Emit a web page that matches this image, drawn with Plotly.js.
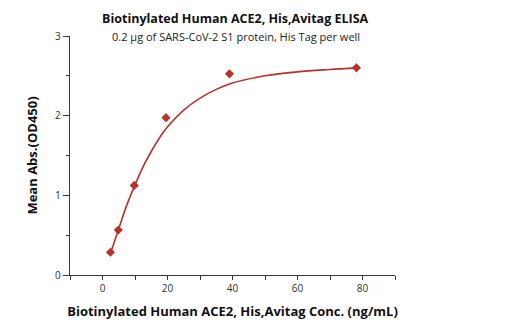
<!DOCTYPE html>
<html>
<head>
<meta charset="utf-8">
<script src="https://cdn.plot.ly/plotly-3.0.1.min.js"></script>
<style>html,body{margin:0;padding:0;background:#fff;}#chart{width:514px;height:331px;}</style>
</head>
<body>
<div id="chart"></div>
<script>
// Measured points (ng/mL, OD450)
const concentrations = [2.44, 4.88, 9.77, 19.53, 39.06, 78.13];
const meanAbs = [0.285, 0.565, 1.125, 1.975, 2.525, 2.60];

// Fitted curve
const curveX = [2.44, 5, 7.5, 10, 12.5, 15, 17.5, 20, 25, 30, 35, 40, 50, 60, 70, 78.13];
const curveY = [0.27, 0.58, 0.88, 1.13, 1.36, 1.55, 1.72, 1.86, 2.07, 2.22, 2.33, 2.41, 2.50, 2.55, 2.58, 2.60];

const xTicks = [0, 20, 40, 60, 80];
const yTicks = [0, 1, 2, 3];

const titleText = "Biotinylated Human ACE2, His,Avitag ELISA";
const subtitleText = "0.2 μg of SARS-CoV-2 S1 protein, His Tag per well";
const xTitle = "Biotinylated Human ACE2, His,Avitag Conc. (ng/mL)";
const yTitle = "Mean Abs.(OD450)";

const red = "#b8312c";
const axisCol = "#3a3a3a";
const font = "Open Sans, Liberation Sans, sans-serif";

const traces = [
  {x: curveX, y: curveY, mode: "lines", line: {color: red, width: 1.6, shape: "spline"}, hoverinfo: "skip", cliponaxis: false},
  {x: concentrations, y: meanAbs, mode: "markers", marker: {symbol: "diamond", size: 7, color: red}, cliponaxis: false}
];

const layout = {
  width: 514, height: 331,
  margin: {l: 70, r: 119, t: 36, b: 56},
  paper_bgcolor: "#fff", plot_bgcolor: "#fff",
  showlegend: false,
  font: {family: font, color: "#222"},
  xaxis: {
    range: [-10, 90], tickvals: xTicks, ticktext: xTicks.map(String),
    showgrid: false, zeroline: false, showline: true, linecolor: axisCol, linewidth: 1.3,
    ticks: "outside", ticklen: 4, tickwidth: 1, tickcolor: axisCol,
    minor: {dtick: 10, tick0: 0, ticks: "outside", ticklen: 4, tickcolor: axisCol, showgrid: false},
    tickfont: {size: 10, color: "#333"},
    title: {text: "<b>" + xTitle + "</b>", font: {size: 13, color: "#111"}, standoff: 12}
  },
  yaxis: {
    range: [0, 3], tickvals: yTicks, ticktext: yTicks.map(String),
    showgrid: false, zeroline: false, showline: true, linecolor: axisCol, linewidth: 1.3,
    ticks: "outside", ticklen: 6, tickwidth: 1, tickcolor: axisCol,
    minor: {dtick: 0.5, tick0: 0, ticks: "outside", ticklen: 3, tickcolor: axisCol, showgrid: false},
    tickfont: {size: 10, color: "#333"},
    title: {text: "<b>" + yTitle + "</b>", font: {size: 13, color: "#111"}, standoff: 14}
  },
  annotations: [
    {xref: "paper", yref: "paper", x: 0.51, y: 1, yshift: 18, text: "<b>" + titleText + "</b>", showarrow: false, font: {size: 12.5, color: "#111"}, xanchor: "center", yanchor: "middle"},
    {xref: "paper", yref: "paper", x: 0.51, y: 1, yshift: 0, text: subtitleText, showarrow: false, font: {size: 11, color: "#222"}, xanchor: "center", yanchor: "middle"}
  ]
};

Plotly.newPlot("chart", traces, layout, {staticPlot: true, displayModeBar: false});
</script>
</body>
</html>
